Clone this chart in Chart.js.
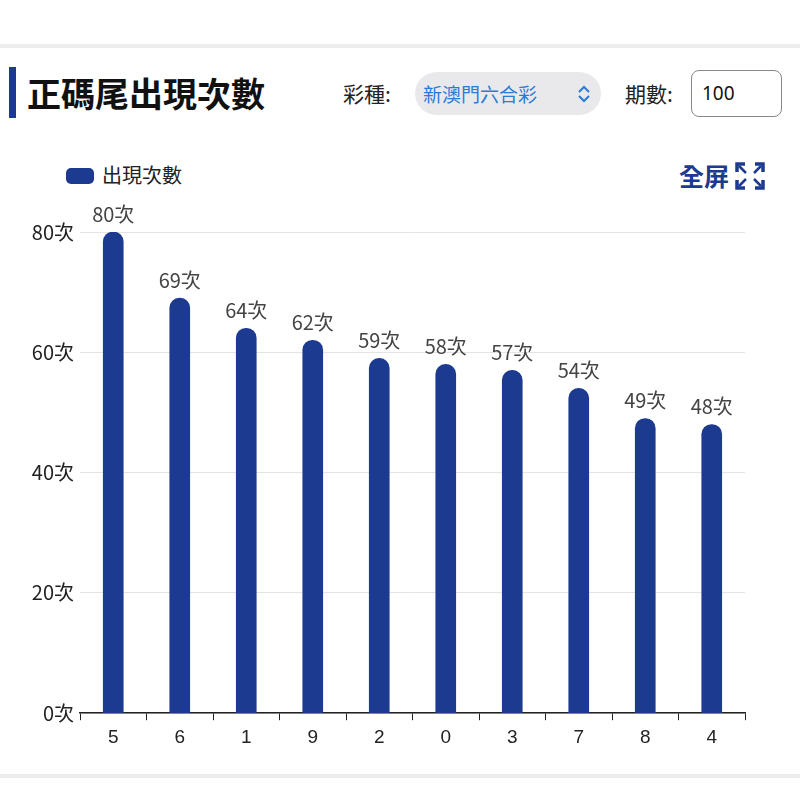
<!DOCTYPE html>
<html><head><meta charset="utf-8">
<script src="https://cdn.jsdelivr.net/npm/chart.js@4/dist/chart.umd.min.js"></script>
<style>
body{margin:0;width:800px;height:785px;background:#fff;font-family:"Noto Sans CJK TC","Noto Sans",sans-serif;position:relative;overflow:hidden}
.line{position:absolute;left:0;width:800px;height:4px;background:#ececec}
#bar{position:absolute;left:9px;top:67px;width:7px;height:51px;background:#1c3a8f}
#title{position:absolute;left:27px;top:68px;font-size:34px;font-weight:bold;color:#111;line-height:50px}
.lab{position:absolute;font-size:21px;color:#222;line-height:30px}
#sel{position:absolute;left:415px;top:72px;width:186px;height:43px;border-radius:22px;background:#e9e9ec;color:#2a7ad6;font-size:19px;line-height:43px;padding-left:8px;box-sizing:border-box}
#inp{position:absolute;left:691px;top:70px;width:91px;height:47px;border:1.5px solid #888;border-radius:8px;box-sizing:border-box;font-size:19px;line-height:44px;padding-left:10px;color:#111;font-family:"Noto Sans",sans-serif}
#full{position:absolute;left:679px;top:157px;font-size:25px;font-weight:bold;color:#1c3a8f;line-height:36px}
#leg{position:absolute;left:66px;top:160px;font-size:20px;color:#222;line-height:30px}
#leg span{display:inline-block;width:28px;height:16px;border-radius:5px;background:#1c3a8f;vertical-align:-1px;margin-right:8px}
#wrap{position:absolute;left:0;top:150px;width:800px;height:605px}
</style></head><body>
<div class="line" style="top:44px"></div>
<div class="line" style="top:774px"></div>
<div id="bar"></div><div id="title">正碼尾出現次數</div>
<div class="lab" style="left:343px;top:78px">彩種:</div>
<div id="sel">新澳門六合彩<svg style="position:absolute;left:162px;top:13px" width="14" height="18" viewBox="0 0 14 18"><path d="M2 7 L7 2 L12 7 M2 11 L7 16 L12 11" stroke="#2a7ad6" stroke-width="2" fill="none"/></svg></div>
<div class="lab" style="left:625px;top:78px">期數:</div>
<div id="inp">100</div>
<div id="full">全屏 <svg style="vertical-align:-4px" width="30" height="28" viewBox="0 0 30 28"><g fill="none" stroke="#1c3a8f" stroke-width="3.5"><path d="M2 10V2h8M20 2h8v8M28 18v8h-8M10 26H2v-8"/><path d="M4 4l7 7M26 4l-7 7M26 24l-7-7M4 24l7-7" stroke-width="2.5"/></g></svg></div>
<div id="leg"><span></span>出現次數</div>
<div id="wrap"><canvas id="c"></canvas></div>
<script>
const categories=["5","6","1","9","2","0","3","7","8","4"];
const counts=[80,69,64,62,59,58,57,54,49,48];
const yTicks=[0,20,40,60,80];
const labelPlugin={id:'lbl',afterDatasetsDraw(ch){const ctx=ch.ctx;ctx.save();ctx.font='20px "Noto Sans CJK TC"';ctx.fillStyle='#444';ctx.textAlign='center';ctx.textBaseline='bottom';
ch.getDatasetMeta(0).data.forEach((b,i)=>{ctx.fillText(counts[i]+'次',b.x,b.y-8);});ctx.restore();}};
new Chart(document.getElementById('c'),{type:'bar',data:{labels:categories,datasets:[{label:'出現次數',data:counts,backgroundColor:'#1c3a8f',barThickness:20,borderRadius:{topLeft:10,topRight:10},borderSkipped:'bottom'}]},
options:{responsive:true,maintainAspectRatio:false,animation:false,layout:{padding:{left:12,right:55,top:82,bottom:0}},
plugins:{legend:{display:false},tooltip:{enabled:false}},
scales:{y:{min:0,max:80,afterBuildTicks(a){a.ticks=yTicks.map(v=>({value:v}));},afterFit(a){a.width=68;},ticks:{color:'#222',font:{size:20,family:'"Noto Sans CJK TC"'},callback:v=>v+'次',padding:6},grid:{color:'#e4e4e4',drawTicks:false},border:{display:false}},
x:{ticks:{color:'#222',font:{size:19},padding:6},grid:{display:true,drawOnChartArea:false,color:'#222',tickLength:7,offset:true},border:{color:'#222',width:1.5}}}},
plugins:[labelPlugin]});
</script></body></html>
